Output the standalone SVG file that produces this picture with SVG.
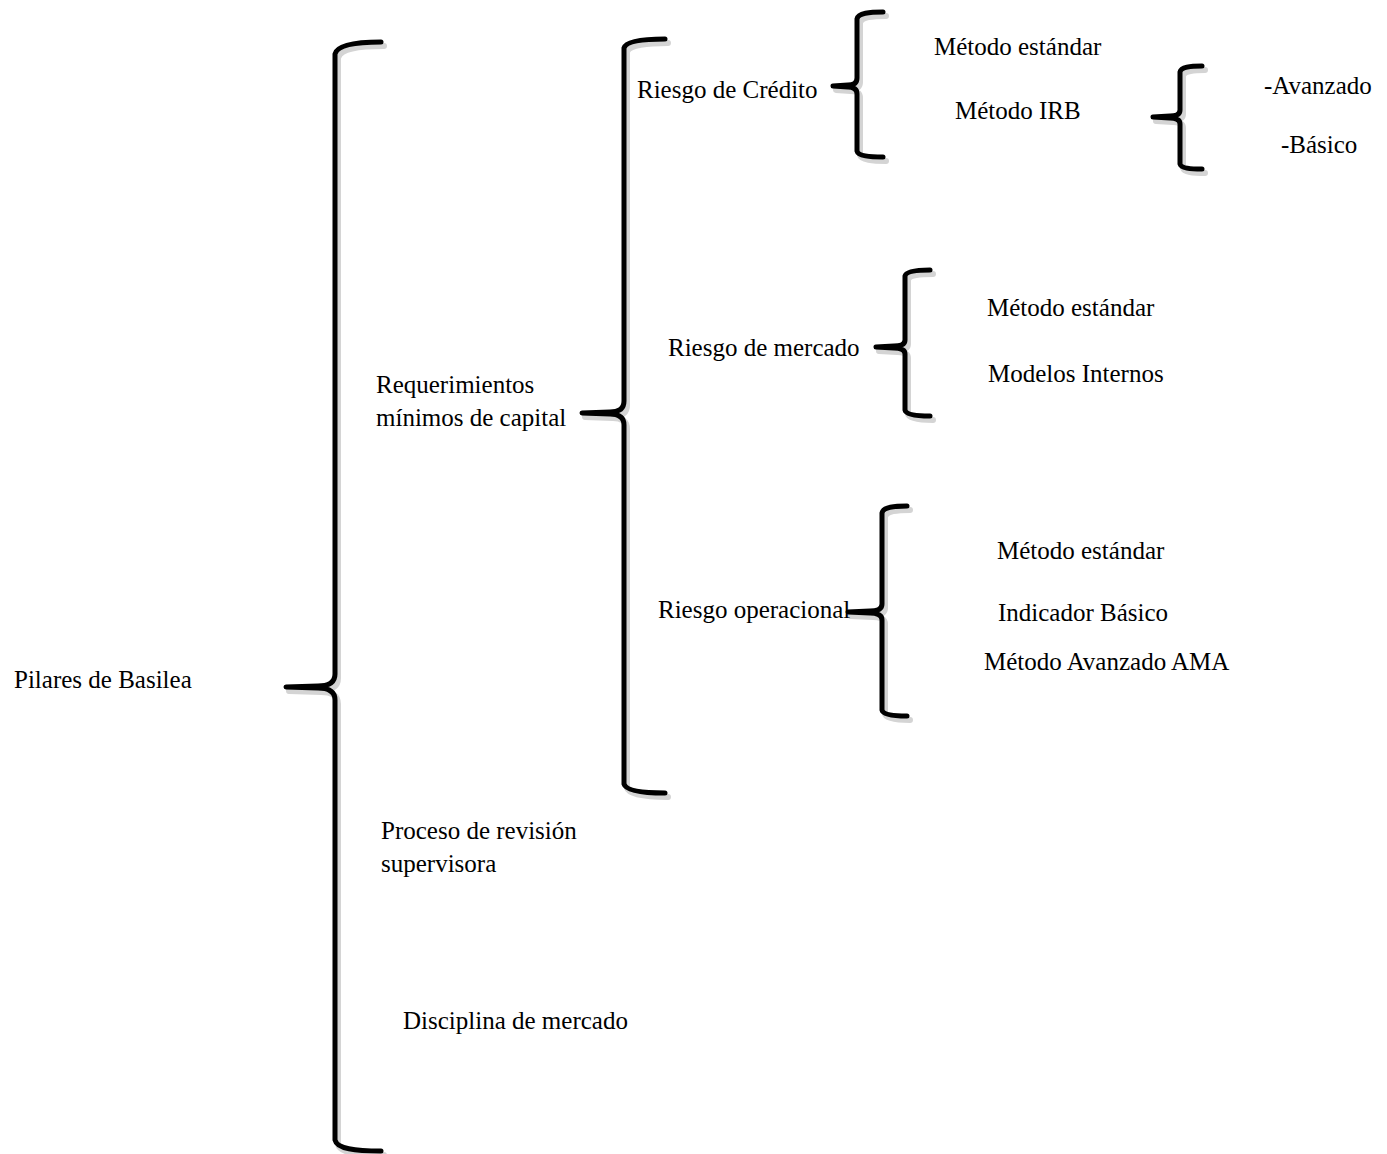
<svg xmlns="http://www.w3.org/2000/svg" xmlns:xlink="http://www.w3.org/1999/xlink" width="1387" height="1154" viewBox="0 0 1387 1154">
<style>
.t{font-family:"Liberation Serif","Times New Roman",serif;font-size:25px;fill:#000}
.b{fill:none;stroke:#000;stroke-width:5;stroke-linecap:round;stroke-linejoin:round}
.s{fill:none;stroke:#d4d4d4;stroke-width:6;stroke-linecap:round;stroke-linejoin:round}
</style>
<defs>
<path id="b1" d="M381,42 C355,42 337,45 335,54 L335,674 Q335,686 318,686 L286,687 L318,688 Q335,688 335,700 L335,1140 C337,1149 355,1151 381,1151"/>
<path id="b2" d="M665,39 C645,39 626,41 624,48 L624,401 Q624,412 610,412 L582,413 L610,414 Q624,414 624,425 L624,784 C626,791 645,793 665,793"/>
<path id="b3" d="M883,12 C870,12 858,13 857,19 L857,78 Q857,85 848,85 L833,86 L848,87 Q857,87 857,94 L857,151 C858,156 870,157 883,157"/>
<path id="b4" d="M1202,66 C1190,66 1181,67 1180,72 L1180,110 Q1180,116 1170,116 L1153,117 L1170,118 Q1180,118 1180,124 L1180,164 C1181,168 1190,169 1202,169"/>
<path id="b5" d="M930,270 C918,270 906,271 905,276 L905,340 Q905,346 894,346 L876,347 L894,348 Q905,348 905,354 L905,410 C906,415 918,416 930,416"/>
<path id="b6" d="M907,506 C895,506 883,507 882,513 L882,604 Q882,611 870,611 L848,612 L870,613 Q882,613 882,620 L882,710 C883,715 895,716 907,716"/>
</defs>
<g id="connectors">
<g transform="translate(3,4)">
<use href="#b1" class="s"/><use href="#b2" class="s"/><use href="#b3" class="s"/><use href="#b4" class="s"/><use href="#b5" class="s"/><use href="#b6" class="s"/>
</g>
<use href="#b1" class="b"/><use href="#b2" class="b"/><use href="#b3" class="b"/><use href="#b4" class="b"/><use href="#b5" class="b"/><use href="#b6" class="b"/>
</g>
<g id="n-pilares"><text class="t" x="14" y="688">Pilares de Basilea</text></g>
<g id="n-requerimientos"><text class="t" x="376" y="393">Requerimientos</text><text class="t" x="376" y="426">mínimos de capital</text></g>
<g id="n-proceso"><text class="t" x="381" y="839">Proceso de revisión</text><text class="t" x="381" y="872">supervisora</text></g>
<g id="n-disciplina"><text class="t" x="403" y="1029">Disciplina de mercado</text></g>
<g id="n-credito"><text class="t" x="637" y="98">Riesgo de Crédito</text></g>
<g id="n-mercado"><text class="t" x="668" y="356">Riesgo de mercado</text></g>
<g id="n-operacional"><text class="t" x="658" y="618">Riesgo operacional</text></g>
<g id="n-c-estandar"><text class="t" x="934" y="55">Método estándar</text></g>
<g id="n-c-irb"><text class="t" x="955" y="119">Método IRB</text></g>
<g id="n-avanzado"><text class="t" x="1264" y="94">-Avanzado</text></g>
<g id="n-basico"><text class="t" x="1281" y="153">-Básico</text></g>
<g id="n-m-estandar"><text class="t" x="987" y="316">Método estándar</text></g>
<g id="n-m-internos"><text class="t" x="988" y="382">Modelos Internos</text></g>
<g id="n-o-estandar"><text class="t" x="997" y="559">Método estándar</text></g>
<g id="n-o-indicador"><text class="t" x="998" y="621">Indicador Básico</text></g>
<g id="n-o-ama"><text class="t" x="984" y="670">Método Avanzado AMA</text></g>
</svg>
